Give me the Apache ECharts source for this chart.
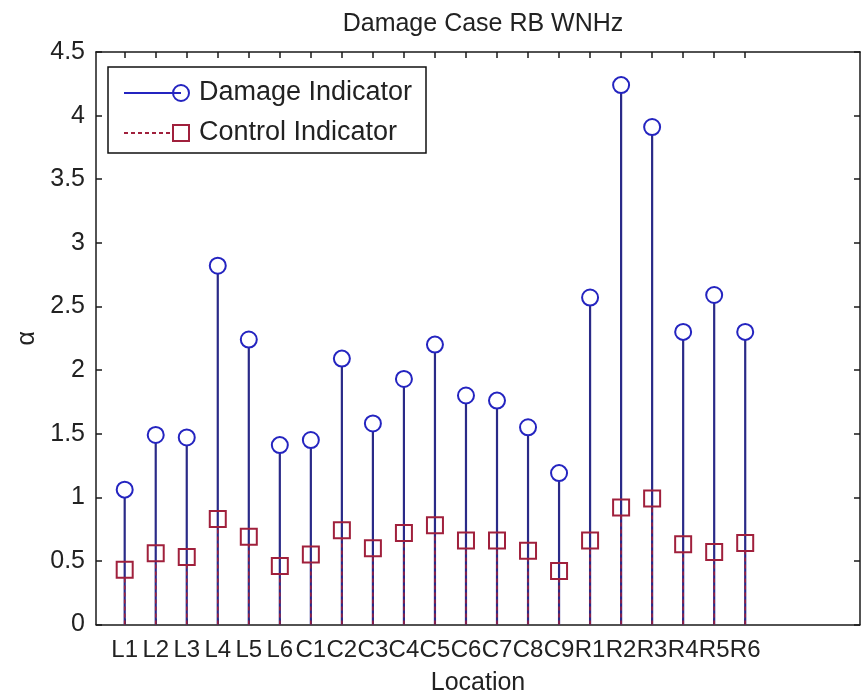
<!DOCTYPE html>
<html>
<head>
<meta charset="utf-8">
<script src="https://cdn.jsdelivr.net/npm/echarts@6/dist/echarts.min.js"></script>
<style>
html,body{margin:0;padding:0;background:#fff;}
#chart{width:862px;height:696px;}
</style>
</head>
<body>
<div id="chart"></div>
<script>
const categories = ['L1','L2','L3','L4','L5','L6','C1','C2','C3','C4','C5','C6','C7','C8','C9','R1','R2','R3','R4','R5','R6'];
const damageIndicator = [1.06, 1.49, 1.47, 2.82, 2.24, 1.41, 1.45, 2.09, 1.58, 1.93, 2.20, 1.80, 1.76, 1.55, 1.19, 2.57, 4.24, 3.91, 2.30, 2.59, 2.30];
const controlIndicator = [0.43, 0.56, 0.53, 0.83, 0.69, 0.46, 0.55, 0.74, 0.60, 0.72, 0.78, 0.66, 0.66, 0.58, 0.42, 0.66, 0.92, 0.99, 0.63, 0.57, 0.64];
const yTicks = [0, 0.5, 1, 1.5, 2, 2.5, 3, 3.5, 4, 4.5];

const positions = categories.map((c, i) => i + 1);
const FONT = '"Liberation Sans", Arial, sans-serif';
const BLUE_STEM = '#2a2a88';
const BLUE_MARK = '#2424c0';
const RED = '#a0203c';

function stemRenderer(kind) {
  return function (params, api) {
    const x = api.value(0), y = api.value(1);
    const top = api.coord([x, y]);
    const base = api.coord([x, 0]);
    const children = [];
    if (kind === 'damage') {
      children.push({type: 'line', shape: {x1: base[0], y1: base[1], x2: top[0], y2: top[1] + 8},
        style: {stroke: BLUE_STEM, lineWidth: 2.2}});
      children.push({type: 'circle', shape: {cx: top[0], cy: top[1], r: 8},
        style: {fill: 'none', stroke: BLUE_MARK, lineWidth: 2}});
    } else {
      children.push({type: 'line', shape: {x1: base[0], y1: base[1], x2: top[0], y2: top[1] + 8},
        style: {stroke: RED, lineWidth: 1.5, lineDash: [4, 3]}});
      children.push({type: 'rect', shape: {x: top[0] - 8, y: top[1] - 8, width: 16, height: 16},
        style: {fill: 'none', stroke: RED, lineWidth: 2}});
    }
    return {type: 'group', children: children};
  };
}

const xMin = 0.075, xMax = 24.7;
const axisLineStyle = {color: '#1a1a1a', width: 1.5};

const option = {
  backgroundColor: '#fff',
  animation: false,
  title: {
    text: 'Damage Case RB WNHz',
    left: 478, top: 7, textAlign: 'center',
    textStyle: {fontFamily: FONT, fontSize: 25, fontWeight: 'normal', color: '#222'}
  },
  legend: {
    orient: 'vertical',
    left: 108, top: 67,
    padding: [11, 10, 5, 15],
    itemGap: 10,
    itemWidth: 65, itemHeight: 16,
    backgroundColor: '#fff',
    borderColor: '#111', borderWidth: 1.5, borderRadius: 0,
    textStyle: {fontFamily: FONT, fontSize: 27, color: '#222', lineHeight: 30, width: 217, padding: [0, 0, 0, 5]},
    data: [
      {name: 'Damage Indicator',
       icon: 'path://M0,8 L57,8 M49,8 A8,8 0 1,1 65,8 A8,8 0 1,1 49,8',
       itemStyle: {color: 'rgba(0,0,0,0)', borderColor: BLUE_MARK, borderWidth: 2}},
      {name: 'Control Indicator',
       icon: 'path://M0,8 L4,8 M7,8 L11,8 M14,8 L18,8 M21,8 L25,8 M28,8 L32,8 M35,8 L39,8 M42,8 L46,8 M49,0 L65,0 L65,16 L49,16 Z',
       itemStyle: {color: 'rgba(0,0,0,0)', borderColor: RED, borderWidth: 2}}
    ]
  },
  grid: {left: 96, right: 2, top: 52, bottom: 71.5, containLabel: false, outerBoundsMode: 'none'},
  xAxis: [
    {
      type: 'value', position: 'bottom', min: xMin, max: xMax,
      name: 'Location', nameLocation: 'middle', nameGap: 46,
      nameTextStyle: {fontFamily: FONT, fontSize: 25, color: '#222'},
      axisLine: {show: true, onZero: false, lineStyle: axisLineStyle},
      axisTick: {show: true, inside: true, length: 6, lineStyle: {color: '#1a1a1a', width: 1.5}, customValues: positions},
      axisLabel: {show: true, margin: 14, fontFamily: FONT, fontSize: 24, color: '#222', customValues: positions,
        hideOverlap: false, showMinLabel: true, showMaxLabel: true,
        formatter: v => categories[Math.round(v) - 1] || ''},
      splitLine: {show: false}
    },
    {
      type: 'value', position: 'top', min: xMin, max: xMax,
      axisLine: {show: true, onZero: false, lineStyle: axisLineStyle},
      axisTick: {show: true, inside: true, length: 6, lineStyle: {color: '#1a1a1a', width: 1.5}, customValues: positions},
      axisLabel: {show: false},
      splitLine: {show: false}
    }
  ],
  yAxis: [
    {
      type: 'value', position: 'left', min: 0, max: 4.5, interval: 0.5,
      name: 'α', nameLocation: 'middle', nameGap: 53, nameRotate: 90,
      nameTextStyle: {fontFamily: FONT, fontSize: 25, color: '#222'},
      axisLine: {show: true, onZero: false, lineStyle: axisLineStyle},
      axisTick: {show: true, inside: true, length: 6, lineStyle: {color: '#1a1a1a', width: 1.5}},
      axisLabel: {margin: 11, fontFamily: FONT, fontSize: 25, color: '#222',
        showMinLabel: true, showMaxLabel: true,
        customValues: yTicks, formatter: v => String(v)},
      splitLine: {show: false}
    },
    {
      type: 'value', position: 'right', min: 0, max: 4.5, interval: 0.5,
      axisLine: {show: true, onZero: false, lineStyle: axisLineStyle},
      axisTick: {show: true, inside: true, length: 6, lineStyle: {color: '#1a1a1a', width: 1.5}},
      axisLabel: {show: false},
      splitLine: {show: false}
    }
  ],
  series: [
    {
      name: 'Damage Indicator', type: 'custom',
      xAxisIndex: 0, yAxisIndex: 0,
      itemStyle: {color: BLUE_MARK},
      renderItem: stemRenderer('damage'),
      data: positions.map((p, i) => [p, damageIndicator[i]])
    },
    {
      name: 'Control Indicator', type: 'custom',
      xAxisIndex: 0, yAxisIndex: 0,
      itemStyle: {color: RED},
      renderItem: stemRenderer('control'),
      data: positions.map((p, i) => [p, controlIndicator[i]])
    }
  ]
};

const chart = echarts.init(document.getElementById('chart'), null, {renderer: 'canvas'});
chart.setOption(option);
</script>
</body>
</html>
